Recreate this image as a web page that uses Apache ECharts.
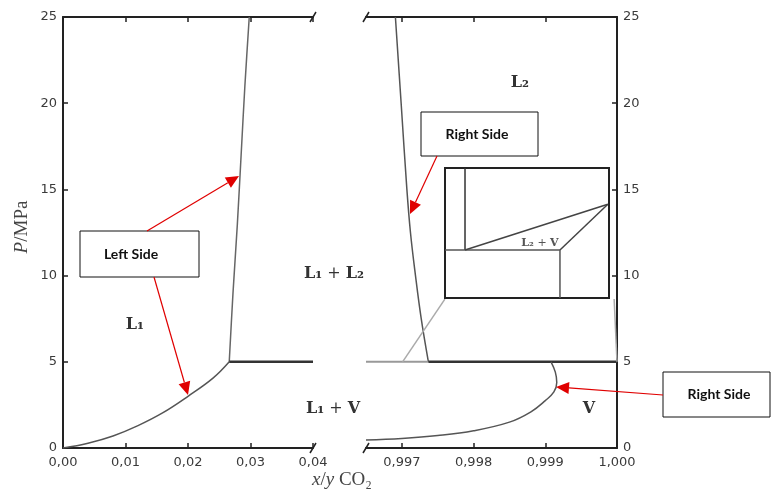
<!DOCTYPE html>
<html>
<head>
<meta charset="utf-8">
<script src="https://cdn.jsdelivr.net/npm/echarts@6/dist/echarts.min.js"></script>
<style>html,body{margin:0;padding:0;background:#fff}#c{width:772px;height:490px}</style>
</head>
<body>
<div id="c"></div>
<script>
// ---------- data ----------
const leftTicks = [0, 0.01, 0.02, 0.03, 0.04];
const rightTicks = [0.997, 0.998, 0.999, 1.000];
const pTicks = [0, 5, 10, 15, 20, 25];

// left panel (x CO2 in L1)
const l1BubbleX = [0, 0.004, 0.008, 0.012, 0.016, 0.020, 0.024, 0.0266];
const l1BubbleP = [0, 0.28, 0.70, 1.30, 2.05, 3.00, 4.05, 5.00];
const l1L2X = [0.0266, 0.0272, 0.0279, 0.0285, 0.0291, 0.0298];
const l1L2P = [5, 9, 13, 17, 21, 25];
const threePhaseLeftX = [0.0266, 0.04];
const threePhaseP = [5, 5];

// right panel (x/y CO2 near 1)
const l2X = [0.99737, 0.99727, 0.99719, 0.99712, 0.99707, 0.99699, 0.99691];
const l2P = [5, 7.5, 10, 12.5, 15, 20, 25];
const threePhaseRightLightX = [0.9965, 0.99737];
const threePhaseRightX = [0.99737, 1.000];
const dewX = [0.9965, 0.9970, 0.9975, 0.9980, 0.9985, 0.9988, 0.9990, 0.99912, 0.99916, 0.99914, 0.99908];
const dewP = [0.46, 0.55, 0.72, 1.00, 1.50, 2.10, 2.75, 3.25, 3.80, 4.40, 5.00];
const zoomLeftX = [0.99701, 0.99760];
const zoomRightX = [1.000, 0.99996];
const zoomP = [5, 8.64];

// inset (schematic zoom, arbitrary units 0-100)
const insetL2X = [12.2, 12.2];      const insetL2Y = [36.9, 100];
const insetThreeX = [0, 70.1];      const insetThreeY = [36.9, 36.9];
const insetUpperX = [12.2, 99.3];   const insetUpperY = [36.9, 72.1];
const insetDiagX = [70.1, 99.3];    const insetDiagY = [36.9, 72.1];
const insetDewX = [70.1, 70.1];     const insetDewY = [0, 36.9];

const regionLabels = ['L₁', 'L₁ + L₂', 'L₁ + V', 'L₂', 'V', 'L₂ + V'];
const boxTexts = ['Left Side', 'Right Side', 'Right Side'];

// ---------- helpers ----------
const zip = (xs, ys) => xs.map((x, i) => [x, ys[i]]);
const fmt = d => v => v.toFixed(d).replace('.', ',');
const AX = '#222';
const tickStyle = {color: '#3a3a3a', fontSize: 13, fontFamily: 'DejaVu Sans'};

function xAx(grid, min, max, pos, labels, custom, dec) {
  const a = {
    type: 'value', gridIndex: grid, min: min, max: max, position: pos,
    axisLine: {show: true, onZero: false, lineStyle: {color: AX, width: 2}},
    axisTick: {show: true, inside: true, length: 5, lineStyle: {color: AX, width: 1.5}},
    axisLabel: Object.assign({show: labels, margin: 8, formatter: fmt(dec)}, tickStyle),
    splitLine: {show: false}
  };
  if (custom) {
    a.axisTick.customValues = custom;
    a.axisLabel.customValues = custom;
  } else {
    a.interval = 0.01;
  }
  return a;
}
function yAx(grid, pos) {
  return {
    type: 'value', gridIndex: grid, min: 0, max: 25, interval: 5, position: pos,
    axisLine: {show: true, onZero: false, lineStyle: {color: AX, width: 2}},
    axisTick: {show: true, inside: true, length: 5, lineStyle: {color: AX, width: 1.5}},
    axisLabel: Object.assign({show: true, margin: 6}, tickStyle),
    splitLine: {show: false}
  };
}
function ln(xi, yi, data, color, width, smooth) {
  return {type: 'line', xAxisIndex: xi, yAxisIndex: yi, data: data, showSymbol: false,
    symbol: 'none', silent: true, animation: false, smooth: smooth || false,
    lineStyle: {color: color, width: width}};
}
function hidden(grid) {
  return {type: 'value', gridIndex: grid, min: 0, max: 100, show: false};
}

// ---------- graphic annotations ----------
function arrow(sx, sy, tx, ty) {
  const dx = tx - sx, dy = ty - sy, L = Math.hypot(dx, dy);
  const ux = dx / L, uy = dy / L, hl = 13, hw = 6;
  const bx = tx - ux * hl, by = ty - uy * hl;
  return [
    {type: 'line', shape: {x1: sx, y1: sy, x2: bx, y2: by}, style: {stroke: '#e00000', lineWidth: 1.2}, z: 50},
    {type: 'polygon', shape: {points: [[tx, ty], [bx - uy * hw, by + ux * hw], [bx + uy * hw, by - ux * hw]]},
      style: {fill: '#e00000'}, z: 50}
  ];
}
function box(x, y, w, h, tx, text) {
  return [
    {type: 'rect', shape: {x: x, y: y, width: w, height: h}, style: {fill: '#fff', stroke: '#111', lineWidth: 1}, z: 40},
    {type: 'text', x: tx, y: y + h / 2, style: {text: text, font: 'bold 14px Lato', fill: '#111',
      align: 'center', verticalAlign: 'middle'}, z: 41}
  ];
}
const serifRich = {
  b: {fontFamily: 'DejaVu Serif', fontWeight: 'bold', fontSize: 16, fill: '#333', color: '#333'},
  n: {fontFamily: 'DejaVu Serif', fontSize: 16, fill: '#333', color: '#333'}
};
function region(x, y, s, size) {
  const parts = s.split(' + ');
  const txt = parts.map(p => '{b|' + p + '}').join('{n| + }');
  const rich = size ? {
    b: Object.assign({}, serifRich.b, {fontSize: size, fill: '#555'}),
    n: Object.assign({}, serifRich.n, {fontSize: size, fill: '#555'})
  } : serifRich;
  return {type: 'text', x: x, y: y, style: {text: txt, rich: rich, align: 'center', verticalAlign: 'middle'}, z: 30};
}
function brk(x, y) {
  return {type: 'line', shape: {x1: x - 3, y1: y + 5, x2: x + 3, y2: y - 5}, style: {stroke: AX, lineWidth: 1.5}, z: 20};
}

const graphics = [].concat(
  [brk(313, 17), brk(313, 448), brk(366, 17), brk(366, 448)],
  [region(135, 325, regionLabels[0]), region(334, 274, regionLabels[1]), region(333, 409, regionLabels[2]),
   region(520, 83, regionLabels[3]), region(589, 409, regionLabels[4]), region(540, 243, regionLabels[5], 11)],
  box(80, 231, 119, 46, 131, boxTexts[0]),
  box(421, 112, 117, 44, 477, boxTexts[1]),
  box(663, 372, 107, 45, 719, boxTexts[2]),
  arrow(147, 231, 239, 176),
  arrow(154, 277, 188, 395),
  arrow(437, 156, 410, 214),
  arrow(663, 395, 556, 387),
  [
    {type: 'text', x: 22, y: 227, rotation: Math.PI / 2,
      style: {text: '{i|P}{r|/MPa}', align: 'center', verticalAlign: 'middle',
        rich: {i: {fontFamily: 'Liberation Serif', fontStyle: 'italic', fontSize: 19, fill: '#444'},
               r: {fontFamily: 'Liberation Serif', fontSize: 19, fill: '#444'}}}},
    {type: 'text', x: 342, y: 480,
      style: {text: '{i|x}{r|/}{i|y}{r| CO₂}', align: 'center', verticalAlign: 'middle',
        rich: {i: {fontFamily: 'Liberation Serif', fontStyle: 'italic', fontSize: 19, fill: '#444'},
               r: {fontFamily: 'Liberation Serif', fontSize: 19, fill: '#444'}}}}
  ]
);

// ---------- chart ----------
const chart = echarts.init(document.getElementById('c'), null, {renderer: 'canvas'});
chart.setOption({
  backgroundColor: '#fff',
  animation: false,
  grid: [
    {left: 63, top: 17, width: 250, height: 431},
    {left: 366, top: 17, width: 251, height: 431},
    {left: 445, top: 168, width: 164, height: 130, show: true, backgroundColor: '#fff',
      borderColor: '#222', borderWidth: 2, z: 10}
  ],
  xAxis: [
    xAx(0, 0, 0.04, 'bottom', true, null, 2),
    xAx(0, 0, 0.04, 'top', false, null, 2),
    xAx(1, 0.9965, 1.0, 'bottom', true, rightTicks, 3),
    xAx(1, 0.9965, 1.0, 'top', false, rightTicks, 3),
    hidden(2)
  ],
  yAxis: [yAx(0, 'left'), yAx(1, 'right'), hidden(2)],
  series: [
    ln(0, 0, zip(l1BubbleX, l1BubbleP), '#555', 1.5, 0.4),
    ln(0, 0, zip(l1L2X, l1L2P), '#666', 1.5, 0.3),
    ln(0, 0, zip(threePhaseLeftX, threePhaseP), '#333', 2.5),
    ln(2, 1, zip(l2X, l2P), '#555', 1.5, 0.4),
    ln(2, 1, zip(threePhaseRightLightX, threePhaseP), '#999', 2),
    ln(2, 1, zip(threePhaseRightX, threePhaseP), '#333', 2.5),
    ln(2, 1, zip(dewX, dewP), '#555', 1.5, 0.4),
    ln(2, 1, zip(zoomLeftX, zoomP), '#aaa', 1.5),
    ln(2, 1, zip(zoomRightX, zoomP), '#aaa', 1.5),
    Object.assign(ln(4, 2, zip(insetL2X, insetL2Y), '#333', 1.5), {z: 12}),
    Object.assign(ln(4, 2, zip(insetThreeX, insetThreeY), '#555', 1.5), {z: 12}),
    Object.assign(ln(4, 2, zip(insetUpperX, insetUpperY), '#444', 1.5), {z: 12}),
    Object.assign(ln(4, 2, zip(insetDiagX, insetDiagY), '#444', 1.5), {z: 12}),
    Object.assign(ln(4, 2, zip(insetDewX, insetDewY), '#555', 1.5), {z: 12})
  ],
  graphic: graphics
});
</script>
</body>
</html>
